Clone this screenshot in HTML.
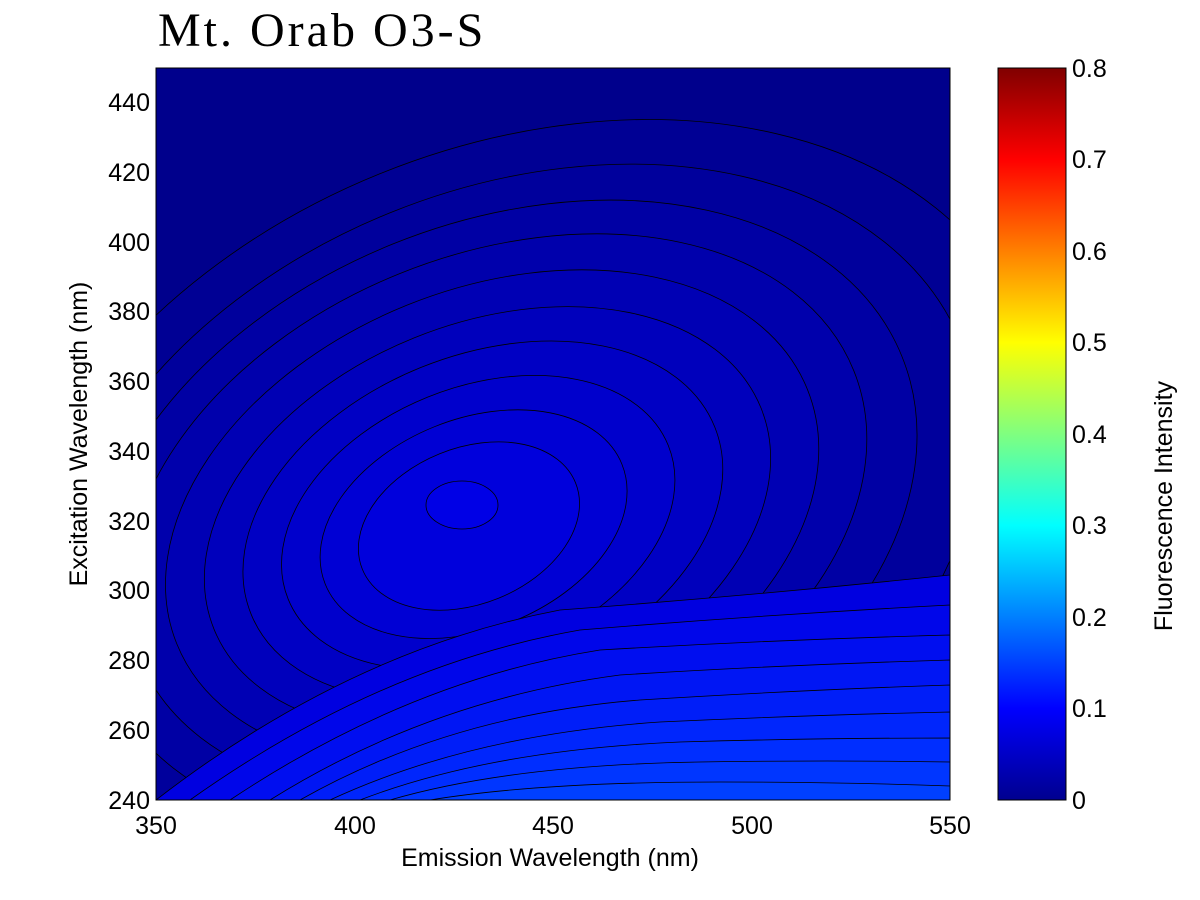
<!DOCTYPE html>
<html><head><style>
html,body{margin:0;padding:0;background:#fff;width:1200px;height:900px;overflow:hidden}
svg{display:block}
svg text{font-family:"Liberation Sans",sans-serif}
</style></head><body>
<svg width="1200" height="900" xmlns="http://www.w3.org/2000/svg">
<defs>
<clipPath id="c"><rect x="156" y="68" width="794" height="732"/></clipPath>
<linearGradient id="jet" x1="0" y1="1" x2="0" y2="0">
<stop offset="0" stop-color="#00008f"/><stop offset="0.125" stop-color="#0000ff"/>
<stop offset="0.375" stop-color="#00ffff"/><stop offset="0.625" stop-color="#ffff00"/>
<stop offset="0.875" stop-color="#ff0000"/><stop offset="1" stop-color="#800000"/>
</linearGradient>
</defs>
<g clip-path="url(#c)" stroke="#000" stroke-width="0.8">
<rect x="156" y="68" width="794" height="732" fill="#00008c" stroke="none"/>
<g transform="rotate(-22 480 500)">
<ellipse cx="510" cy="540" rx="540" ry="380" fill="#000094"/>
<ellipse cx="505" cy="535" rx="480" ry="335" fill="#00009c"/>
<ellipse cx="495" cy="525" rx="430" ry="295" fill="#0000a4"/>
<ellipse cx="490" cy="520" rx="385" ry="260" fill="#0000ac"/>
<ellipse cx="485" cy="520" rx="340" ry="228" fill="#0000b4"/>
<ellipse cx="480" cy="520" rx="295" ry="195" fill="#0000bc"/>
<ellipse cx="475" cy="520" rx="250" ry="165" fill="#0000c4"/>
<ellipse cx="470" cy="520" rx="205" ry="135" fill="#0000cc"/>
<ellipse cx="465" cy="520" rx="160" ry="105" fill="#0000d4"/>
<ellipse cx="460" cy="520" rx="115" ry="78" fill="#0000dc"/>
</g>
<ellipse cx="462" cy="505" rx="36" ry="24" fill="#0000e6"/>
<path d="M156 800 Q350 650 560 610 Q760 595 950 575 L950 800Z" fill="#0000e0"/>
<path d="M190 800 Q380 665 580 630 Q760 615 950 605 L950 800Z" fill="#0006ea"/>
<path d="M230 800 Q410 680 600 650 Q770 640 950 635 L950 800Z" fill="#000ef0"/>
<path d="M270 800 Q430 700 620 675 Q780 665 950 660 L950 800Z" fill="#0016f4"/>
<path d="M300 800 Q450 715 640 700 Q800 690 950 685 L950 800Z" fill="#001ef8"/>
<path d="M330 800 Q470 735 660 722 Q810 715 950 712 L950 800Z" fill="#0026fc"/>
<path d="M360 800 Q490 750 680 742 Q820 738 950 738 L950 800Z" fill="#002eff"/>
<path d="M390 800 Q510 765 700 762 Q830 760 950 762 L950 800Z" fill="#0036ff"/>
<path d="M430 800 Q540 782 720 782 Q840 782 950 786 L950 800Z" fill="#0040ff"/>
</g>
<rect x="156" y="68" width="794" height="732" fill="none" stroke="#000" stroke-width="1"/>
<text x="158" y="46" font-size="48" letter-spacing="3" style="font-family:'Liberation Serif',serif">Mt. Orab O3-S</text>
<g font-size="25" text-anchor="end">
<text x="150" y="809">240</text><text x="150" y="739">260</text><text x="150" y="669">280</text>
<text x="150" y="599">300</text><text x="150" y="530">320</text><text x="150" y="460">340</text>
<text x="150" y="390">360</text><text x="150" y="320">380</text><text x="150" y="251">400</text>
<text x="150" y="181">420</text><text x="150" y="111">440</text>
</g>
<g font-size="25" text-anchor="middle">
<text x="156" y="834">350</text><text x="355" y="834">400</text><text x="553" y="834">450</text>
<text x="752" y="834">500</text><text x="950" y="834">550</text>
<text x="550" y="866">Emission Wavelength (nm)</text>
</g>
<text transform="translate(87 434) rotate(-90)" font-size="25" text-anchor="middle">Excitation Wavelength (nm)</text>
<rect x="998" y="68" width="68" height="732" fill="url(#jet)" stroke="#000"/>
<g font-size="25">
<text x="1072" y="809">0</text><text x="1072" y="717">0.1</text><text x="1072" y="626">0.2</text>
<text x="1072" y="534">0.3</text><text x="1072" y="443">0.4</text><text x="1072" y="351">0.5</text>
<text x="1072" y="260">0.6</text><text x="1072" y="168">0.7</text><text x="1072" y="77">0.8</text>
</g>
<text transform="translate(1172 506) rotate(-90)" font-size="25" text-anchor="middle">Fluorescence Intensity</text>
</svg>
</body></html>
